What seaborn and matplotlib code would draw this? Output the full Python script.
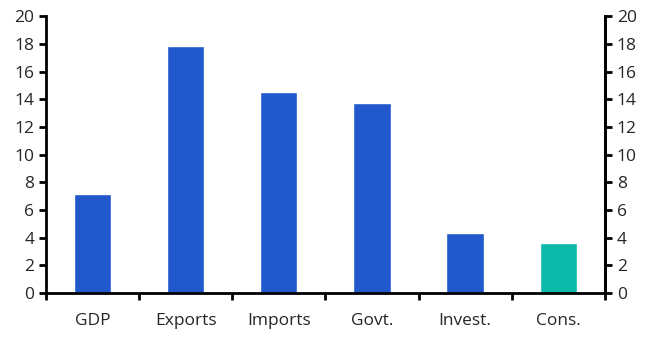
import matplotlib
matplotlib.use("Agg")
import matplotlib.pyplot as plt
import seaborn as sns
import pandas as pd

categories = ["GDP", "Exports", "Imports", "Govt.", "Invest.", "Cons."]
values = [7.15, 17.82, 14.5, 13.7, 4.35, 3.6]
bar_colors = ["#2159CC", "#2159CC", "#2159CC", "#2159CC", "#2159CC", "#0DB9A9"]
yticks = [0, 2, 4, 6, 8, 10, 12, 14, 16, 18, 20]

sns.set_style("white")
plt.rcParams["font.family"] = ["Open Sans", "DejaVu Sans"]

df = pd.DataFrame({"cat": categories, "val": values})

fig = plt.figure(figsize=(6.59, 3.51), dpi=100)
ax = fig.add_axes([0.0698, 0.165, 0.848, 0.789])
sns.barplot(data=df, x="cat", y="val", hue="cat", palette=bar_colors,
            width=0.4, legend=False, ax=ax, saturation=1)
ax.set_xlim(-0.5, len(categories) - 0.5)
ax.set_ylim(0, 20)
ax.set_yticks(yticks)
ax.set_xlabel("")
ax.set_ylabel("")
ax.set_xticks(range(len(categories)))
ax.set_xticklabels(categories, fontsize=12.5)
ax.tick_params(axis="x", which="major", length=0, pad=14)
ax.set_xticks([i - 0.5 for i in range(len(categories) + 1)], minor=True)
ax.tick_params(axis="x", which="minor", bottom=True, length=5, width=2,
               direction="out", color="black")
ax.tick_params(axis="y", left=True, length=5, width=2, direction="out",
               labelsize=12.5, color="black")
ax.spines["top"].set_visible(False)
for s in ["left", "right", "bottom"]:
    ax.spines[s].set_linewidth(2)
    ax.spines[s].set_color("black")

ax2 = ax.twinx()
ax2.set_ylim(0, 20)
ax2.set_yticks(yticks)
ax2.tick_params(axis="y", right=True, length=5, width=2, direction="out",
                labelsize=12.5, color="black")
for s in ["top", "left", "bottom"]:
    ax2.spines[s].set_visible(False)
ax2.spines["right"].set_linewidth(2)
ax2.spines["right"].set_color("black")

fig.savefig("out.png", dpi=100)
